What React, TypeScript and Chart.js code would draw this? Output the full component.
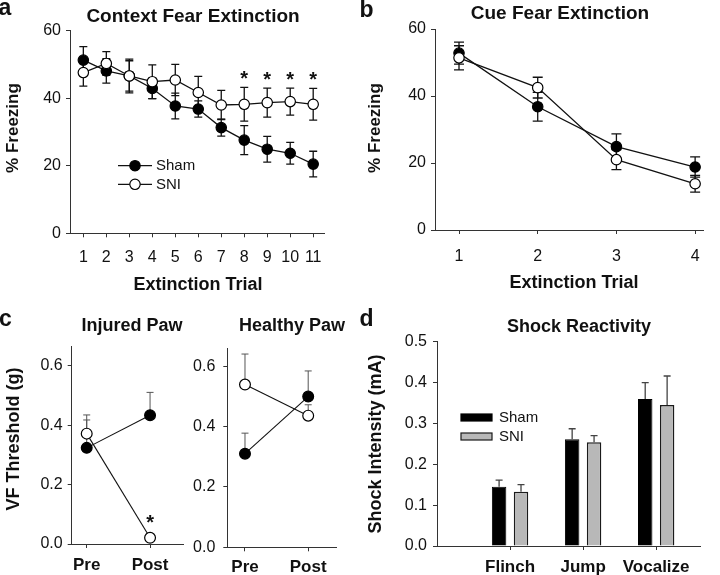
import React, { useEffect, useRef } from "react";
import { Chart, registerables } from "chart.js";
Chart.register(...registerables);

const FONT = "'Liberation Sans', Arial, Helvetica, sans-serif";

// ---- Panel a: Context fear extinction ----
const ctxTrials = [1, 2, 3, 4, 5, 6, 7, 8, 9, 10, 11];
const ctxSham = [51.3, 48.1, 46.6, 42.9, 37.7, 36.8, 31.3, 27.6, 24.9, 23.7, 20.5];
const ctxShamErr = [4.0, 3.6, 4.5, 3.0, 3.8, 2.4, 2.5, 4.3, 3.8, 3.2, 3.8];
const ctxSni = [47.6, 50.3, 46.6, 44.9, 45.4, 41.7, 38.0, 38.2, 38.7, 39.0, 38.2];
const ctxSniErr = [4.0, 3.5, 5.0, 5.0, 4.6, 4.8, 4.3, 5.0, 4.3, 4.0, 4.7];
const ctxSigTrials = [8, 9, 10, 11];
const freezeTicks = [0, 20, 40, 60];

// ---- Panel b: Cue fear extinction ----
const cueTrials = [1, 2, 3, 4];
const cueSham = [52.8, 36.8, 24.9, 18.8];
const cueShamErr = [3.3, 4.3, 3.8, 3.0];
const cueSni = [51.4, 42.5, 21.0, 13.8];
const cueSniErr = [3.6, 3.1, 3.0, 2.5];

// ---- Panel c: VF thresholds ----
const phases = ["Pre", "Post"];
const injSham = [0.324, 0.434];
const injShamErr = [0.094, 0.077];
const injSni = [0.372, 0.021];
const injSniErr = [0.063, 0];
const injSigPhases = ["Post"];
const hlSham = [0.31, 0.499];
const hlShamErr = [0.068, 0.085];
const hlSni = [0.539, 0.436];
const hlSniErr = [0.101, 0.036];
const vfTicks = [0, 0.2, 0.4, 0.6];

// ---- Panel d: Shock reactivity ----
const responses = ["Flinch", "Jump", "Vocalize"];
const shockSham = [0.145, 0.261, 0.36];
const shockShamErr = [0.016, 0.026, 0.04];
const shockSni = [0.133, 0.254, 0.345];
const shockSniErr = [0.017, 0.016, 0.071];
const shockTicks = [0, 0.1, 0.2, 0.3, 0.4, 0.5];

const groups = ["Sham", "SNI"];

function drawErr(chart: any, barsPass: boolean) {
  const ctx = chart.ctx;
  chart.data.datasets.forEach((ds: any, di: number) => {
    const meta = chart.getDatasetMeta(di);
    const isBar = meta.type === "bar";
    if (!ds.errors || isBar !== barsPass) return;
    const ys = chart.scales[meta.yAxisID];
    const st = ds.errorStyle;
    ctx.save();
    ctx.strokeStyle = st.color;
    ctx.lineWidth = st.width;
    meta.data.forEach((el: any, i: number) => {
      const e = ds.errors[i];
      if (!e) return;
      const v = ds.data[i].y;
      const x = el.x;
      const top = ys.getPixelForValue(v + e);
      const bot = st.up ? ys.getPixelForValue(v) : ys.getPixelForValue(v - e);
      ctx.beginPath();
      ctx.moveTo(x, top);
      ctx.lineTo(x, bot);
      ctx.moveTo(x - st.cap, top);
      ctx.lineTo(x + st.cap, top);
      if (!st.up) {
        ctx.moveTo(x - st.cap, bot);
        ctx.lineTo(x + st.cap, bot);
      }
      ctx.stroke();
    });
    ctx.restore();
  });
}

const errorBars = {
  id: "errorBars",
  beforeDatasetsDraw(chart: any) {
    drawErr(chart, false);
  },
  afterDatasetsDraw(chart: any) {
    drawErr(chart, true);
  },
};

function star(ctx: any, x: number, yCenter: number) {
  ctx.save();
  ctx.font = `bold 20px ${FONT}`;
  ctx.fillStyle = "#111";
  ctx.textAlign = "center";
  ctx.textBaseline = "alphabetic";
  ctx.fillText("*", x, yCenter + 11.5);
  ctx.restore();
}

function yAxis(o: any) {
  return {
    type: "linear",
    min: o.min,
    max: o.max,
    afterBuildTicks: (s: any) => {
      s.ticks = o.ticks.map((v: number) => ({ value: v }));
    },
    afterFit: (s: any) => {
      s.width = o.width;
    },
    ticks: {
      callback: o.fmt,
      font: { family: FONT, size: o.size },
      color: "#111",
      padding: o.pad,
      autoSkip: false,
    },
    grid: { drawOnChartArea: false, drawTicks: true, tickLength: 4, color: "#333", lineWidth: 1 },
    border: { display: true, color: "#333", width: 1 },
  };
}

function xAxis(o: any) {
  return {
    type: "linear",
    min: o.min,
    max: o.max,
    offset: false,
    afterBuildTicks: (s: any) => {
      s.ticks = o.ticks.map((v: number) => ({ value: v }));
    },
    afterFit: (s: any) => {
      s.height = o.height;
    },
    ticks: {
      callback: o.fmt,
      font: { family: FONT, size: o.size, weight: o.bold ? "bold" : "normal" },
      color: "#111",
      padding: o.pad,
      autoSkip: false,
      maxRotation: 0,
    },
    grid: { drawOnChartArea: false, drawTicks: true, tickLength: 4, color: "#333", lineWidth: 1, offset: false },
    border: { display: true, color: "#333", width: 1 },
  };
}

function lineSet(xs: any[], ys: number[], errs: number[], filled: boolean, o: any) {
  return {
    data: xs.map((x, i) => ({ x, y: ys[i] })),
    errors: errs,
    errorStyle: { color: o.errColor, width: o.errWidth, cap: o.cap, up: o.up },
    borderColor: "#111",
    borderWidth: o.lineWidth,
    pointRadius: o.r,
    pointHoverRadius: o.r,
    pointBackgroundColor: filled ? "#000" : "#fff",
    pointBorderColor: "#000",
    pointBorderWidth: 1.2,
    tension: 0,
    fill: false,
  };
}

const baseOpts = (pad: any) => ({
  responsive: false,
  animation: false,
  events: [],
  layout: { padding: pad },
  plugins: { legend: { display: false }, tooltip: { enabled: false }, title: { display: false } },
});

// ---------- configs ----------
const lineA = { errColor: "#111", errWidth: 1.3, cap: 4, up: false, lineWidth: 1.3, r: 5.2 };

const configA = {
  type: "line",
  data: {
    datasets: [
      lineSet(ctxTrials, ctxSni, ctxSniErr, false, lineA),
      lineSet(ctxTrials, ctxSham, ctxShamErr, true, lineA),
    ],
  },
  options: {
    ...baseOpts({ left: 0, top: 30.7, right: 26, bottom: 0 }),
    scales: {
      x: xAxis({ min: 0.42, max: 11.47, ticks: ctxTrials, height: 66.7, size: 16, pad: 11, fmt: (v: number) => String(v) }),
      y: yAxis({ min: 0, max: 60, ticks: freezeTicks, width: 70, size: 16, pad: 5, fmt: (v: number) => String(v) }),
    },
  },
  plugins: [
    errorBars,
    {
      id: "extrasA",
      afterDraw(chart: any) {
        const ctx = chart.ctx;
        const xs = chart.scales.x;
        const ys = chart.scales.y;
        ctxSigTrials.forEach((t) => {
          const i = ctxTrials.indexOf(t);
          star(ctx, xs.getPixelForValue(t), ys.getPixelForValue(ctxSni[i] + ctxSniErr[i]) - 14);
        });
        // legend
        const rows = [
          { label: groups[0], fill: "#000", y: 165.7 },
          { label: groups[1], fill: "#fff", y: 184.3 },
        ];
        ctx.save();
        rows.forEach((r) => {
          ctx.strokeStyle = "#111";
          ctx.lineWidth = 1.3;
          ctx.beginPath();
          ctx.moveTo(118, r.y);
          ctx.lineTo(152, r.y);
          ctx.stroke();
          ctx.beginPath();
          ctx.arc(135, r.y, 5.2, 0, Math.PI * 2);
          ctx.fillStyle = r.fill;
          ctx.fill();
          ctx.lineWidth = 1.2;
          ctx.strokeStyle = "#000";
          ctx.stroke();
          ctx.fillStyle = "#111";
          ctx.font = `15px ${FONT}`;
          ctx.textAlign = "left";
          ctx.textBaseline = "middle";
          ctx.fillText(r.label, 156, r.y + 0.5);
        });
        ctx.restore();
      },
    },
  ],
};

const lineB = { errColor: "#111", errWidth: 1.3, cap: 5, up: false, lineWidth: 1.3, r: 5.2 };
const configB = {
  type: "line",
  data: {
    datasets: [
      lineSet(cueTrials, cueSni, cueSniErr, false, lineB),
      lineSet(cueTrials, cueSham, cueShamErr, true, lineB),
    ],
  },
  options: {
    ...baseOpts({ left: 0, top: 29, right: 17, bottom: 0 }),
    scales: {
      x: xAxis({ min: 0.695, max: 4.1, ticks: cueTrials, height: 70, size: 16, pad: 13, fmt: (v: number) => String(v) }),
      y: yAxis({ min: 0, max: 60, ticks: freezeTicks, width: 75, size: 16, pad: 5, fmt: (v: number) => String(v) }),
    },
  },
  plugins: [errorBars],
};

const lineC = { errColor: "#555", errWidth: 1, cap: 3.5, up: true, lineWidth: 1.1, r: 5.4 };
const phaseX = phases.map((_, i) => i + 1);

const configC1 = {
  type: "line",
  data: {
    datasets: [
      lineSet(phaseX, injSni, injSniErr, false, lineC),
      lineSet(phaseX, injSham, injShamErr, true, lineC),
    ],
  },
  options: {
    ...baseOpts({ left: 0, top: 46.7, right: 7, bottom: 0 }),
    scales: {
      x: xAxis({ min: 0.763, max: 2.52, ticks: phaseX, height: 31, size: 17, bold: true, pad: 7, fmt: (v: number) => phases[v - 1] }),
      y: yAxis({ min: 0, max: 0.665, ticks: vfTicks, width: 71.7, size: 16, pad: 5, fmt: (v: number) => v.toFixed(1) }),
    },
  },
  plugins: [
    errorBars,
    {
      id: "extrasC",
      afterDraw(chart: any) {
        const xs = chart.scales.x;
        const ys = chart.scales.y;
        injSigPhases.forEach((p) => {
          const i = phases.indexOf(p);
          star(chart.ctx, xs.getPixelForValue(i + 1), ys.getPixelForValue(injSni[i]) - 20);
        });
      },
    },
  ],
};

const configC2 = {
  type: "line",
  data: {
    datasets: [
      lineSet(phaseX, hlSni, hlSniErr, false, lineC),
      lineSet(phaseX, hlSham, hlShamErr, true, lineC),
    ],
  },
  options: {
    ...baseOpts({ left: 0, top: 48.3, right: 14, bottom: 0 }),
    scales: {
      x: xAxis({ min: 0.72, max: 2.44, ticks: phaseX, height: 27.7, size: 17, bold: true, pad: 5.5, fmt: (v: number) => phases[v - 1] }),
      y: yAxis({ min: 0, max: 0.659, ticks: vfTicks, width: 37.3, size: 16, pad: 8, fmt: (v: number) => v.toFixed(1) }),
    },
  },
  plugins: [errorBars],
};

const respX = responses.map((_, i) => i + 1);
const barSet = (ys: number[], errs: number[], fill: string, border: string, bw: number) => ({
  data: respX.map((x, i) => ({ x, y: ys[i] })),
  errors: errs,
  errorStyle: { color: "#444", width: 1.3, cap: 3.5, up: true },
  backgroundColor: fill,
  borderColor: border,
  borderWidth: bw,
  categoryPercentage: 0.6,
  barPercentage: 0.66,
});

const configD = {
  type: "bar",
  data: {
    datasets: [
      barSet(shockSham, shockShamErr, "#000", "#000", 1),
      barSet(shockSni, shockSniErr, "#b8b8b8", "#1a1a1a", 1.5),
    ],
  },
  options: {
    ...baseOpts({ left: 0, top: 41.7, right: 20, bottom: 0 }),
    scales: {
      x: xAxis({ min: 0, max: 3.6, ticks: respX, height: 29, size: 17, bold: true, pad: 7, fmt: (v: number) => responses[v - 1] }),
      y: yAxis({ min: 0, max: 0.5, ticks: shockTicks, width: 77, size: 16, pad: 6, fmt: (v: number) => v.toFixed(1) }),
    },
  },
  plugins: [
    errorBars,
    {
      id: "legendD",
      afterDraw(chart: any) {
        const ctx = chart.ctx;
        ctx.save();
        const rows = [
          { label: groups[0], fill: "#000", border: "#000", y: 117.5 },
          { label: groups[1], fill: "#b8b8b8", border: "#1a1a1a", y: 136.5 },
        ];
        rows.forEach((r) => {
          ctx.fillStyle = r.fill;
          ctx.fillRect(101, r.y - 3.5, 31, 7);
          ctx.strokeStyle = r.border;
          ctx.lineWidth = 1.2;
          ctx.strokeRect(101, r.y - 3.5, 31, 7);
          ctx.fillStyle = "#111";
          ctx.font = `15px ${FONT}`;
          ctx.textAlign = "left";
          ctx.textBaseline = "middle";
          ctx.fillText(r.label, 139, r.y + 0.5);
        });
        ctx.restore();
      },
    },
  ],
};

function ChartCanvas({ left, top, w, h, config }: any) {
  const ref = useRef<HTMLCanvasElement>(null);
  useEffect(() => {
    const chart = new Chart(ref.current as HTMLCanvasElement, config);
    return () => chart.destroy();
  }, []);
  return (
    <canvas
      ref={ref}
      width={w}
      height={h}
      style={{ position: "absolute", left, top, width: w, height: h }}
    />
  );
}

function T({ x, y, size, bold = true, rot = false, children }: any) {
  return (
    <div
      style={{
        position: "absolute",
        left: x,
        top: y,
        transform: `translate(-50%, -50%)${rot ? " rotate(-90deg)" : ""}`,
        font: `${bold ? "bold " : ""}${size}px ${FONT}`,
        lineHeight: 1,
        whiteSpace: "nowrap",
        color: "#111",
      }}
    >
      {children}
    </div>
  );
}

export default function App() {
  return (
    <div style={{ position: "absolute", left: 0, top: 0, width: 720, height: 575, background: "#fff", overflow: "hidden" }}>
      <ChartCanvas left={0} top={0} w={350} h={300} config={configA} />
      <ChartCanvas left={360} top={0} w={360} h={300} config={configB} />
      <ChartCanvas left={0} top={300} w={190} h={275} config={configC1} />
      <ChartCanvas left={190} top={300} w={160} h={275} config={configC2} />
      <ChartCanvas left={360} top={300} w={360} h={275} config={configD} />

      <T x={5} y={7} size={23}>a</T>
      <T x={366.5} y={8.5} size={23}>b</T>
      <T x={5.5} y={318} size={23}>c</T>
      <T x={366.5} y={317.5} size={23}>d</T>

      <T x={193} y={14.5} size={19}>Context Fear Extinction</T>
      <T x={560} y={11.7} size={19}>Cue Fear Extinction</T>
      <T x={132} y={324.5} size={18}>Injured Paw</T>
      <T x={292} y={324.5} size={18}>Healthy Paw</T>
      <T x={579} y={325.5} size={18}>Shock Reactivity</T>

      <T x={198} y={283.5} size={18}>Extinction Trial</T>
      <T x={574} y={281.5} size={18}>Extinction Trial</T>

      <T x={12} y={128} size={17} rot>% Freezing</T>
      <T x={374} y={128} size={17} rot>% Freezing</T>
      <T x={12.5} y={439} size={18} rot>VF Threshold (g)</T>
      <T x={375} y={444} size={18} rot>Shock Intensity (mA)</T>
    </div>
  );
}
